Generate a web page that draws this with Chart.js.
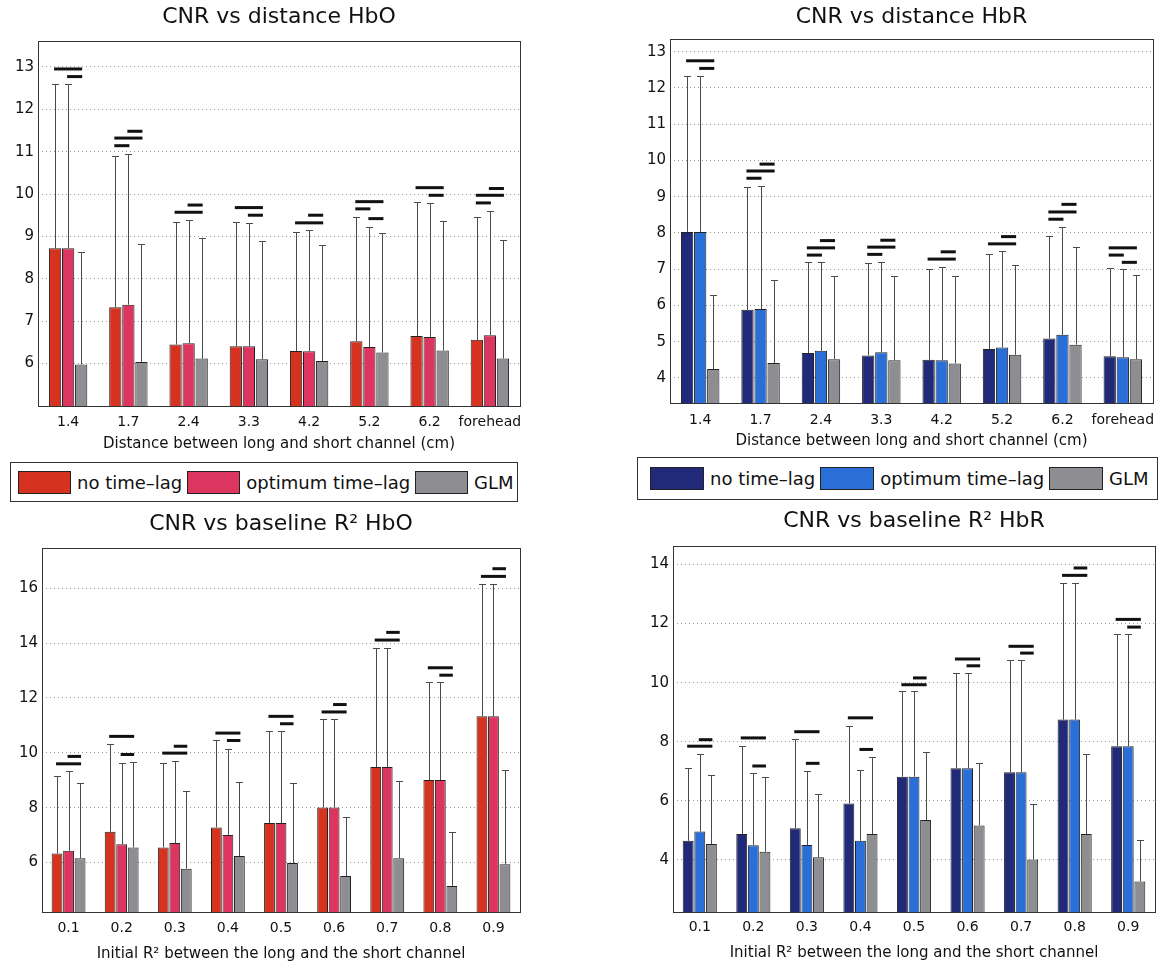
<!DOCTYPE html>
<html>
<head>
<meta charset="utf-8">
<script src="https://cdn.jsdelivr.net/npm/chart.js@4.4.0/dist/chart.umd.min.js"></script>
<style>
  body { margin:0; background:#fff; width:1160px; height:965px; position:relative; overflow:hidden; font-family:"DejaVu Sans", sans-serif; }
  canvas { position:absolute; }
  .legend { position:absolute; border:1px solid #333; background:#fff; display:flex; align-items:center; box-sizing:border-box; font-size:18px; color:#111; white-space:nowrap; }
  .legend .sw { height:23px; border:1px solid #222; box-sizing:border-box; margin-right:6px; flex:none; }
  .legend .tx { margin-right:5px; }
</style>
</head>
<body>
<canvas id="hboDist" width="540" height="455" style="left:0;top:0"></canvas>
<canvas id="hbrDist" width="560" height="455" style="left:600px;top:0"></canvas>
<canvas id="hboR2" width="540" height="460" style="left:0;top:505px"></canvas>
<canvas id="hbrR2" width="560" height="460" style="left:600px;top:505px"></canvas>
<div class="legend" id="legHbo" style="left:10px;top:462px;width:508px;height:40px;padding-left:7px"></div>
<div class="legend" id="legHbr" style="left:637px;top:457px;width:521px;height:43px;padding-left:12px"></div>
<script>
var distCats = ['1.4', '1.7', '2.4', '3.3', '4.2', '5.2', '6.2', 'forehead'];
var r2Cats = ['0.1', '0.2', '0.3', '0.4', '0.5', '0.6', '0.7', '0.8', '0.9'];
var seriesNames = ['no time\u2013lag', 'optimum time\u2013lag', 'GLM'];

// CNR vs distance, HbO
var hboDistNoLag = [8.72, 7.33, 6.45, 6.41, 6.30, 6.53, 6.65, 6.56];
var hboDistOptLag = [8.72, 7.39, 6.48, 6.41, 6.29, 6.39, 6.63, 6.67];
var hboDistGlm = [5.98, 6.04, 6.12, 6.10, 6.06, 6.26, 6.31, 6.12];
var hboDistNoLagErr = [12.59, 10.89, 9.34, 9.35, 9.11, 9.46, 9.82, 9.46];
var hboDistOptLagErr = [12.59, 10.95, 9.39, 9.32, 9.14, 9.23, 9.78, 9.61];
var hboDistGlmErr = [8.64, 8.82, 8.96, 8.90, 8.79, 9.09, 9.36, 8.92];
// [category, series a, series b, height]
var hboDistSig = [[0,0,2,12.95],[0,1,2,12.77],[1,0,1,11.14],[1,0,2,11.32],[1,1,2,11.48],
  [2,0,2,9.57],[2,1,2,9.74],[3,0,2,9.68],[3,1,2,9.50],[4,0,2,9.32],[4,1,2,9.50],
  [5,0,1,9.65],[5,0,2,9.82],[5,1,2,9.42],[6,0,2,10.15],[6,1,2,9.97],
  [7,0,1,9.79],[7,0,2,9.97],[7,1,2,10.13]];
var hboDistTicks = [6, 7, 8, 9, 10, 11, 12, 13];

// CNR vs distance, HbR
var hbrDistNoLag = [8.03, 5.88, 4.69, 4.62, 4.50, 4.80, 5.09, 4.60];
var hbrDistOptLag = [8.03, 5.90, 4.75, 4.71, 4.49, 4.84, 5.19, 4.57];
var hbrDistGlm = [4.25, 4.41, 4.52, 4.49, 4.40, 4.64, 4.92, 4.52];
var hbrDistNoLagErr = [12.34, 9.27, 7.19, 7.16, 7.02, 7.41, 7.91, 7.03];
var hbrDistOptLagErr = [12.34, 9.30, 7.19, 7.21, 7.07, 7.50, 8.17, 7.00];
var hbrDistGlmErr = [6.29, 6.69, 6.81, 6.81, 6.81, 7.12, 7.62, 6.84];
var hbrDistSig = [[0,0,2,12.75],[0,1,2,12.54],[1,0,1,9.51],[1,0,2,9.71],[1,1,2,9.90],
  [2,0,1,7.39],[2,0,2,7.59],[2,1,2,7.79],[3,0,1,7.41],[3,0,2,7.61],[3,1,2,7.80],
  [4,0,2,7.28],[4,1,2,7.48],[5,0,2,7.70],[5,1,2,7.90],
  [6,0,1,8.38],[6,0,2,8.58],[6,1,2,8.79],[7,0,1,7.39],[7,0,2,7.59],[7,1,2,7.19]];
var hbrDistTicks = [4, 5, 6, 7, 8, 9, 10, 11, 12, 13];

// CNR vs baseline R2, HbO
var hboR2NoLag = [6.33, 7.12, 6.55, 7.28, 7.44, 8.01, 9.48, 9.01, 11.33];
var hboR2OptLag = [6.43, 6.67, 6.71, 7.01, 7.44, 8.01, 9.48, 9.01, 11.33];
var hboR2Glm = [6.16, 6.55, 5.78, 6.24, 5.99, 5.51, 6.16, 5.15, 5.94];
var hboR2NoLagErr = [9.17, 10.33, 9.63, 10.45, 10.79, 11.23, 13.83, 12.59, 16.16];
var hboR2OptLagErr = [9.32, 9.63, 9.72, 10.15, 10.79, 11.23, 13.83, 12.59, 16.16];
var hboR2GlmErr = [8.89, 9.66, 8.62, 8.95, 8.90, 7.67, 8.99, 7.10, 9.38];
var hboR2Sig = [[0,0,2,9.60],[0,1,2,9.87],[1,0,2,10.60],[1,1,2,9.94],[2,0,2,9.99],[2,1,2,10.24],
  [3,0,2,10.72],[3,1,2,10.45],[4,0,2,11.33],[4,1,2,11.06],[5,0,2,11.49],[5,1,2,11.76],
  [6,0,2,14.11],[6,1,2,14.39],[7,0,2,13.10],[7,1,2,12.83],[8,0,2,16.43],[8,1,2,16.71]];
var hboR2Ticks = [6, 8, 10, 12, 14, 16];

// CNR vs baseline R2, HbR
var hbrR2NoLag = [4.65, 4.88, 5.07, 5.91, 6.82, 7.10, 6.97, 8.75, 7.85];
var hbrR2OptLag = [4.96, 4.50, 4.51, 4.65, 6.82, 7.10, 6.97, 8.75, 7.85];
var hbrR2Glm = [4.54, 4.28, 4.09, 4.88, 5.35, 5.17, 4.02, 4.88, 3.27];
var hbrR2NoLagErr = [7.10, 7.87, 8.10, 8.53, 9.72, 10.33, 10.76, 13.38, 11.64];
var hbrR2OptLagErr = [7.58, 6.93, 7.02, 7.06, 9.72, 10.33, 10.76, 13.38, 11.64];
var hbrR2GlmErr = [6.89, 6.82, 6.23, 7.49, 7.66, 7.27, 5.88, 7.60, 4.68];
var hbrR2Sig = [[0,0,2,7.85],[0,1,2,8.07],[1,0,2,8.13],[1,1,2,7.18],[2,0,2,8.34],[2,1,2,7.27],
  [3,0,2,8.81],[3,1,2,7.74],[4,0,2,9.93],[4,1,2,10.16],[5,0,2,10.80],[5,1,2,10.57],
  [6,0,2,11.23],[6,1,2,11.00],[7,0,2,13.63],[7,1,2,13.88],[8,0,2,12.14],[8,1,2,11.88]];
var hbrR2Ticks = [4, 6, 8, 10, 12, 14];

var hboColors = ['#d5321f', '#db3560', '#8e8e92'];
var hbrColors = ['#212a78', '#2a6fd8', '#8e8e92'];
var FONT = '"DejaVu Sans", sans-serif';
var TXT = '#111';

// error bars (upper only), significance bars and the plot box
var extras = {
  id: 'extras',
  afterDatasetsDraw: function(chart, args, opts) {
    var ctx = chart.ctx, y = chart.scales.y;
    ctx.save();
    ctx.strokeStyle = '#4a4a4a';
    ctx.lineWidth = 1;
    opts.errors.forEach(function(errs, i) {
      chart.getDatasetMeta(i).data.forEach(function(bar, j) {
        var top = Math.round(y.getPixelForValue(errs[j])) + 0.5;
        var x = Math.round(bar.x) + 0.5;
        ctx.beginPath();
        ctx.moveTo(x, bar.y);
        ctx.lineTo(x, top);
        ctx.moveTo(x - 3.5, top);
        ctx.lineTo(x + 3.5, top);
        ctx.stroke();
      });
    });
    ctx.fillStyle = '#111';
    opts.sig.forEach(function(s) {
      var xa = chart.getDatasetMeta(s[1]).data[s[0]].x;
      var xb = chart.getDatasetMeta(s[2]).data[s[0]].x;
      var py = y.getPixelForValue(s[3]);
      ctx.fillRect(xa - 1, py - 1.5, xb - xa + 2, 3);
    });
    var ca = chart.chartArea;
    ctx.strokeStyle = '#333';
    ctx.strokeRect(Math.round(ca.left) + 0.5, Math.round(ca.top) + 0.5,
      Math.round(ca.right - ca.left), Math.round(ca.bottom - ca.top));
    ctx.restore();
  }
};

function makePanel(id, cats, values, errors, sig, ticks, ymin, ymax, colors, title, xTitle, p) {
  var datasets = values.map(function(v, i) {
    return {
      label: seriesNames[i],
      data: v,
      backgroundColor: colors[i],
      borderColor: '#222',
      borderWidth: 1,
      borderSkipped: false,
      categoryPercentage: 0.65,
      barPercentage: 0.94
    };
  });
  return new Chart(document.getElementById(id), {
    type: 'bar',
    plugins: [extras],
    data: { labels: cats, datasets: datasets },
    options: {
      responsive: false,
      animation: false,
      layout: { padding: { left: 0, right: p.right, top: 0, bottom: 0 } },
      plugins: {
        legend: { display: false },
        tooltip: { enabled: false },
        title: {
          display: true, text: title, fullSize: false, color: TXT,
          font: { family: FONT, size: 22, weight: 'normal' },
          padding: { top: p.titleTop, bottom: p.titleBottom }
        },
        extras: { errors: errors, sig: sig }
      },
      scales: {
        x: {
          grid: { display: false, drawTicks: false },
          border: { display: false },
          ticks: { color: TXT, font: { family: FONT, size: 14 }, padding: p.tickPad, maxRotation: 0, autoSkip: false },
          title: { display: true, text: xTitle, color: TXT, font: { family: FONT, size: 15 }, padding: { top: 0, bottom: p.xTitleBottom } },
          afterFit: function(s) { s.height = p.xHeight; s.paddingLeft = 0; s.paddingRight = 0; }
        },
        y: {
          min: ymin, max: ymax,
          afterBuildTicks: function(s) { s.ticks = ticks.map(function(v) { return { value: v }; }); },
          grid: { color: '#9a9a9a', lineWidth: 1, drawTicks: false },
          border: { display: false, dash: [1, 3] },
          ticks: { color: TXT, font: { family: FONT, size: 15 }, padding: 4 },
          afterFit: function(s) { s.width = p.yWidth; s.paddingTop = 0; s.paddingBottom = 0; }
        }
      }
    }
  });
}

makePanel('hboDist', distCats,
  [hboDistNoLag, hboDistOptLag, hboDistGlm], [hboDistNoLagErr, hboDistOptLagErr, hboDistGlmErr],
  hboDistSig, hboDistTicks, 5, 13.6, hboColors,
  'CNR vs distance HbO', 'Distance between long and short channel (cm)',
  { yWidth: 38, right: 20, titleTop: 4, titleBottom: 11, xHeight: 49, tickPad: 8, xTitleBottom: 2 });

makePanel('hbrDist', distCats,
  [hbrDistNoLag, hbrDistOptLag, hbrDistGlm], [hbrDistNoLagErr, hbrDistOptLagErr, hbrDistGlmErr],
  hbrDistSig, hbrDistTicks, 3.31, 13.34, hbrColors,
  'CNR vs distance HbR', 'Distance between long and short channel (cm)',
  { yWidth: 70, right: 7, titleTop: 4, titleBottom: 9, xHeight: 52, tickPad: 8.5, xTitleBottom: 5 });

makePanel('hboR2', r2Cats,
  [hboR2NoLag, hboR2OptLag, hboR2Glm], [hboR2NoLagErr, hboR2OptLagErr, hboR2GlmErr],
  hboR2Sig, hboR2Ticks, 4.2, 17.45, hboColors,
  'CNR vs baseline R\u00b2 HbO', 'Initial R\u00b2 between the long and the short channel',
  { yWidth: 42, right: 20, titleTop: 6, titleBottom: 11, xHeight: 53, tickPad: 7.5, xTitleBottom: 2 });

makePanel('hbrR2', r2Cats,
  [hbrR2NoLag, hbrR2OptLag, hbrR2Glm], [hbrR2NoLagErr, hbrR2OptLagErr, hbrR2GlmErr],
  hbrR2Sig, hbrR2Ticks, 2.24, 14.61, hbrColors,
  'CNR vs baseline R\u00b2 HbR', 'Initial R\u00b2 between the long and the short channel',
  { yWidth: 73, right: 5, titleTop: 3, titleBottom: 12, xHeight: 53, tickPad: 6.5, xTitleBottom: 3 });

function makeLegend(id, colors, swatchW) {
  var el = document.getElementById(id);
  seriesNames.forEach(function(name, i) {
    var sw = document.createElement('span');
    sw.className = 'sw';
    sw.style.width = swatchW + 'px';
    sw.style.background = colors[i];
    var tx = document.createElement('span');
    tx.className = 'tx';
    tx.textContent = name;
    el.appendChild(sw);
    el.appendChild(tx);
  });
}
makeLegend('legHbo', hboColors, 53);
makeLegend('legHbr', hbrColors, 54);
</script>
</body>
</html>
